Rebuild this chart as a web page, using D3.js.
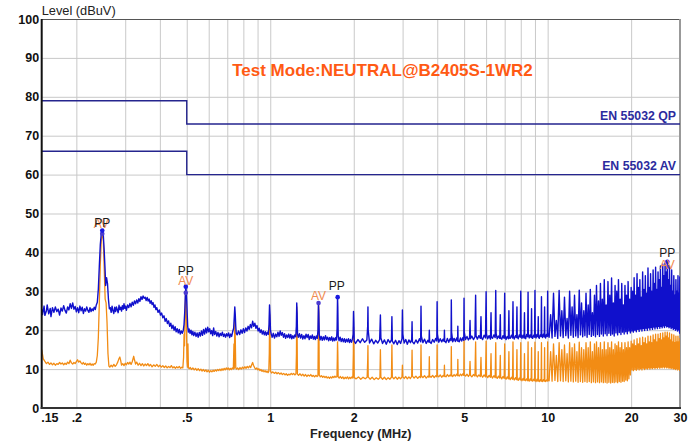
<!DOCTYPE html>
<html><head><meta charset="utf-8">
<script src="https://cdn.jsdelivr.net/npm/d3@7"></script>
<style>html,body{margin:0;padding:0;background:#fff;} svg{display:block;}</style>
</head><body><svg id="chart" width="699" height="448"></svg>
<script>
// ---------- data ----------
const yTicks = [0,10,20,30,40,50,60,70,80,90,100];
const xTickValues = [0.15,0.2,0.5,1,2,5,10,20,30];
const xTickLabels = [".15",".2",".5","1","2","5","10","20","30"];
const xGridValues = [0.2,0.3,0.4,0.5,0.6,0.7,0.8,0.9,1,2,3,4,5,6,7,8,9,10,20];
const yGridValues = [10,20,30,40,50,60,70,80,90];

const qpLimit = [[0.15,79],[0.5,79],[0.5,73],[30,73]];
const avLimit = [[0.15,66],[0.5,66],[0.5,60],[30,60]];
const limitNames = ["EN 55032 QP","EN 55032 AV"];

const peakTrace = [
[0.150,25.5],[0.151,24.0],[0.153,26.2],[0.154,23.8],[0.156,25.0],[0.157,26.5],[0.159,24.2],[0.161,25.6],[0.162,23.5],[0.164,25.8],[0.166,24.6],[0.168,26.0],[0.170,24.8],[0.172,25.4],[0.174,23.9],[0.176,25.7],[0.178,24.9],[0.180,26.3],[0.182,25.1],[0.184,24.4],[0.186,26.0],[0.188,25.2],[0.190,26.8],[0.192,25.6],[0.194,27.0],[0.196,25.4],[0.198,26.1],[0.200,24.7],[0.202,25.8],[0.204,24.5],[0.206,26.2],[0.208,25.0],[0.210,25.9],[0.212,24.3],[0.214,25.5],[0.216,24.9],[0.218,26.0],[0.220,25.1],[0.222,24.6],[0.224,25.8],[0.226,24.8],[0.228,25.5],[0.230,25.0],[0.232,25.9],[0.234,25.3],[0.236,26.5],
[0.238,27.2],[0.240,30.5],[0.242,36.5],[0.244,42.0],[0.246,45.0],[0.248,45.6],[0.250,44.8],[0.252,40.5],[0.254,35.0],[0.255,31.5],[0.257,33.5],[0.259,32.0],[0.261,28.0],[0.263,25.5],
[0.265,25.8],[0.267,24.6],[0.269,26.2],[0.271,25.0],[0.273,24.3],[0.275,25.9],[0.277,24.8],[0.279,26.0],[0.281,25.2],[0.283,24.5],[0.285,26.4],[0.287,25.3],[0.289,25.9],[0.291,24.9],[0.293,26.3],[0.295,25.4],[0.297,26.8],[0.299,25.6],[0.301,26.2],[0.303,25.1],[0.306,26.5],[0.309,25.8],[0.312,26.9],[0.315,26.0],[0.318,27.2],[0.321,26.4],[0.324,27.5],[0.327,26.8],[0.330,27.8],
[0.333,27.0],[0.336,28.1],[0.339,27.4],[0.342,28.6],[0.345,27.9],[0.348,28.8],[0.351,28.2],[0.354,28.5],[0.357,27.6],[0.360,28.4],[0.363,27.5],[0.366,28.0],[0.369,26.9],[0.372,27.6],[0.375,26.6],[0.378,27.1],[0.381,25.9],[0.384,26.5],[0.387,25.3],[0.390,25.8],[0.394,24.6],[0.398,25.2],[0.402,23.9],[0.406,24.4],[0.410,23.2],[0.414,23.7],[0.418,22.3],[0.422,23.0],[0.426,21.7],[0.430,22.4],[0.434,21.0],[0.438,21.8],[0.442,20.4],[0.446,21.3],[0.450,20.0],[0.454,20.9],[0.458,19.6],[0.462,20.4],[0.466,19.3],[0.470,20.2],[0.474,19.0],[0.478,19.8],[0.482,19.2],[0.486,20.0],[0.489,21.5],[0.492,25.0],[0.494,28.5],[0.496,31.2],[0.498,30.0],[0.500,27.5],[0.502,24.0],[0.504,21.0],[0.507,19.5],[0.510,20.3],
[0.514,19.2],[0.518,20.0],[0.522,18.8],[0.526,19.7],[0.530,18.6],[0.535,19.5],[0.540,18.4],[0.545,19.3],[0.550,18.2],[0.555,19.4],[0.560,18.5],[0.565,19.8],[0.570,18.7],[0.575,20.2],[0.580,19.0],[0.585,20.5],[0.590,19.3],[0.595,20.8],[0.600,19.6],[0.605,20.4],[0.610,19.1],[0.615,19.9],[0.620,18.6],[0.625,20.6],[0.630,18.9],[0.636,19.7],[0.642,18.5],[0.648,19.4],[0.654,18.3],[0.660,19.2],[0.666,18.6],[0.672,19.5],[0.678,18.4],[0.684,19.0],[0.690,18.2],[0.696,19.1],[0.702,18.5],[0.708,19.3],[0.714,18.1],[0.720,19.0],[0.726,18.4],[0.732,19.6],[0.738,20.5],[0.742,23.5],[0.745,26.0],[0.748,24.0],[0.751,21.0],[0.754,19.2],
[0.760,18.8],[0.768,19.8],[0.776,18.9],[0.784,20.1],[0.792,19.2],[0.800,20.4],[0.808,19.4],[0.816,20.6],[0.824,19.8],[0.832,21.0],[0.840,20.2],[0.848,21.5],[0.856,20.6],[0.864,22.3],[0.872,21.0],[0.880,21.8],[0.888,20.5],[0.896,21.2],[0.904,19.8],[0.912,20.5],[0.920,19.4],[0.928,20.1],[0.936,19.0],[0.944,19.8],[0.952,18.8],[0.960,19.6],[0.968,18.7],[0.976,19.5],[0.984,18.9],[0.990,21.5],[0.994,26.5],[0.998,24.0],[1.002,20.0],[1.008,19.0],
[1.016,18.2],[1.026,19.2],[1.036,18.0],[1.046,19.0],[1.056,18.3],[1.066,19.5],[1.076,18.4],[1.086,19.8],[1.096,18.7],[1.106,19.4],[1.116,18.2],[1.126,19.1],[1.136,17.9],[1.146,18.8],[1.156,18.1],[1.166,19.0],[1.176,18.0],[1.186,18.9],[1.196,17.8],[1.206,18.6],[1.216,17.9],[1.226,18.8],[1.236,18.3],[1.242,21.0],[1.246,27.0],[1.250,24.5],[1.254,19.0],[1.262,18.2],[1.274,19.1],[1.286,18.0],[1.298,18.9],[1.310,17.7],[1.322,18.6],[1.334,17.8],[1.346,19.0],[1.358,18.1],[1.370,18.9],[1.382,17.6],[1.394,18.5],[1.406,17.9],[1.418,18.8],[1.430,17.7],[1.442,18.4],[1.454,17.6],[1.466,18.5],[1.478,17.9],[1.486,20.0],[1.492,27.0],[1.496,25.0],[1.502,19.0],[1.512,17.5],[1.526,18.4],[1.540,17.4],[1.554,18.3],[1.568,17.5],[1.582,18.6],[1.596,17.6],[1.610,18.2],[1.624,17.3],[1.638,18.1],[1.652,17.4],[1.666,18.3],[1.680,17.2],[1.694,18.0],[1.708,17.3],[1.722,18.1],[1.734,17.5],[1.742,20.5],[1.748,28.5],[1.752,26.0],[1.758,18.5],[1.770,17.3],[1.786,18.2],[1.802,17.1],[1.818,17.9],[1.834,17.0],[1.850,17.8],[1.866,16.9],[1.882,17.7],[1.898,17.0],[1.914,17.8],[1.930,16.8],[1.946,17.6],[1.962,16.9],[1.978,17.7],[1.990,19.0],[1.996,24.8],[2.002,22.0],[2.008,17.2],
[2.03,16.6],[2.07,17.6],[2.11,16.8],[2.15,17.8],[2.19,16.9],[2.23,17.5],[2.245,21.0],[2.25,26.0],[2.255,20.0],[2.28,16.7],[2.32,17.7],[2.36,16.5],[2.40,17.4],[2.44,16.7],[2.48,17.6],[2.495,23.9],[2.505,18.0],[2.54,16.6],[2.58,17.5],[2.62,16.4],[2.66,17.6],[2.70,16.8],[2.735,17.5],[2.745,23.5],[2.755,17.2],[2.79,16.5],[2.83,17.4],[2.87,16.3],[2.91,17.3],[2.95,16.6],[2.985,17.8],[2.995,25.2],[3.005,19.0],[3.04,16.7],[3.08,17.6],[3.12,16.4],[3.16,17.5],[3.20,16.8],[3.235,17.6],[3.245,22.2],[3.255,17.0],[3.30,16.5],[3.35,17.5],[3.40,16.7],[3.45,17.8],[3.485,17.0],[3.495,26.2],[3.505,18.5],[3.55,16.8],[3.60,17.7],[3.65,16.6],[3.70,17.4],[3.735,16.9],[3.745,20.0],[3.755,17.1],[3.80,16.6],[3.85,17.6],[3.90,16.9],[3.95,17.9],[3.985,17.2],[3.995,27.3],[4.005,19.0],[4.05,16.9],[4.10,17.8],[4.15,17.0],[4.20,17.7],[4.235,17.1],[4.245,20.0],[4.255,17.2],[4.30,16.8],[4.35,17.9],[4.40,16.9],[4.45,17.8],[4.485,17.3],[4.495,27.8],[4.505,19.5],[4.55,17.0],[4.60,17.9],[4.65,17.1],[4.70,18.0],[4.735,17.2],[4.745,21.0],[4.755,17.3],[4.80,17.0],[4.85,18.0],[4.90,17.2],[4.95,18.1],[4.985,17.4],[4.995,28.2],[5.005,19.5],
[5.06,17.6],[5.12,18.4],[5.18,17.5],[5.23,18.0],[5.25,22.5],[5.27,17.8],[5.33,18.5],[5.40,17.6],[5.47,18.3],[5.5,29.0],[5.52,18.6],[5.58,17.7],[5.65,18.6],[5.72,17.9],[5.75,23.5],[5.77,18.1],[5.83,17.6],[5.90,18.7],[5.97,18.0],[6.0,29.9],[6.02,19.0],[6.08,17.8],[6.15,18.6],[6.22,17.7],[6.25,24.5],[6.27,18.2],[6.33,17.9],[6.40,18.8],[6.47,18.1],[6.5,30.2],[6.52,19.2],[6.58,17.8],[6.65,18.5],[6.72,17.9],[6.75,24.0],[6.77,18.0],[6.83,17.7],[6.90,18.6],[6.97,17.9],[7.0,29.5],[7.02,18.8],[7.08,17.6],[7.15,18.4],[7.22,17.8],[7.25,25.0],[7.27,18.1],[7.33,17.9],[7.40,18.7],[7.47,18.0],[7.5,27.3],[7.52,18.5],[7.58,17.7],[7.65,18.6],[7.72,18.1],[7.75,26.0],[7.77,18.3],[7.83,17.8],[7.90,18.8],[7.97,18.2],[8.0,30.0],[8.02,19.0],[8.08,17.9],[8.15,18.7],[8.22,18.0],[8.25,24.5],[8.27,18.2],[8.33,17.8],[8.40,18.9],[8.47,18.3],[8.5,29.8],[8.52,19.1],[8.58,18.0],[8.65,18.8],[8.72,18.1],[8.75,25.5],[8.77,18.4],[8.83,17.9],[8.90,18.7],[8.97,18.2],[9.0,30.2],[9.02,19.0],[9.08,18.0],[9.15,18.9],[9.22,18.3],[9.25,23.5],[9.27,18.2],[9.33,17.9],[9.40,18.8],[9.47,18.4],[9.5,28.6],[9.52,18.9],[9.58,18.1],[9.65,19.0],[9.72,18.3],[9.75,26.0],[9.77,18.5],[9.83,18.0],[9.90,18.9],[9.97,18.4],[10.0,30.0],[10.02,19.2],
[10.125,18.2],[10.25,24.0],[10.375,18.0],[10.5,29.5],[10.625,18.4],[10.75,22.5],[10.875,17.9],[11.0,30.2],[11.125,18.5],[11.25,25.0],[11.375,18.1],[11.5,28.5],[11.625,18.6],[11.75,23.0],[11.875,18.0],[12.0,30.0],[12.125,18.7],[12.25,26.0],[12.375,18.2],[12.5,29.0],[12.625,18.5],[12.75,24.0],[12.875,18.1],[13.0,30.3],[13.125,18.8],[13.25,27.0],[13.375,18.3],[13.5,25.0],[13.625,18.6],[13.75,29.5],[13.875,18.2],[14.0,26.5],[14.125,18.9],[14.25,30.5],[14.375,18.4],[14.5,24.5],[14.625,18.7],[14.75,29.0],[14.875,18.3],[15.0,31.5],[15.125,18.9],[15.25,27.5],[15.375,18.4],[15.5,32.0],[15.625,19.0],[15.75,28.0],[15.875,18.5],[16.0,33.0],[16.125,19.1],[16.25,26.5],[16.375,18.6],[16.5,32.5],[16.625,19.2],[16.75,29.0],[16.875,18.7],[17.0,33.4],[17.125,19.0],[17.25,27.0],[17.375,18.5],[17.5,31.5],[17.625,19.3],[17.75,30.0],[17.875,18.8],[18.0,33.0],[18.125,19.4],[18.25,28.0],[18.375,18.9],[18.5,32.0],[18.625,19.5],[18.75,26.5],[18.875,19.0],[19.0,31.5],[19.125,19.6],[19.25,29.0],[19.375,19.1],[19.5,32.5],[19.625,19.8],[19.75,28.0],[19.875,19.3],[20.0,31.0],
[20.125,19.8],[20.25,30.0],[20.375,19.5],[20.5,33.5],[20.625,20.0],[20.75,29.0],[20.875,19.6],[21.0,34.5],[21.125,20.2],[21.25,31.0],[21.375,19.7],[21.5,33.0],[21.625,20.3],[21.75,28.5],[21.875,19.8],[22.0,35.0],[22.125,20.4],[22.25,30.5],[22.375,19.9],[22.5,34.0],[22.625,20.5],[22.75,29.5],[22.875,20.0],[23.0,36.0],[23.125,20.6],[23.25,31.0],[23.375,20.1],[23.5,34.5],[23.625,20.7],[23.75,30.0],[23.875,20.2],[24.0,35.5],[24.125,20.8],[24.25,32.0],[24.375,20.3],[24.5,36.2],[24.625,20.9],[24.75,30.5],[24.875,20.4],[25.0,35.0],[25.125,21.0],[25.25,33.0],[25.375,20.5],[25.5,36.5],[25.625,21.0],[25.75,31.0],[25.875,20.6],[26.0,37.0],[26.125,21.1],[26.25,34.0],[26.375,20.7],[26.5,37.2],[26.625,21.2],[26.75,35.0],[26.875,20.8],[27.0,37.6],[27.125,21.0],[27.25,33.0],[27.375,20.6],[27.5,36.5],[27.625,20.9],[27.75,31.5],[27.875,20.4],[28.0,35.5],[28.125,20.7],[28.25,30.0],[28.375,20.2],[28.5,34.0],[28.625,20.5],[28.75,29.0],[28.875,20.0],[29.0,33.0],[29.125,20.3],[29.25,30.0],[29.375,19.8],[29.5,34.0],[29.625,20.1],[29.75,29.5],[29.875,19.5],[29.95,33.7],[30.0,19.0]
];

const avgTrace = [
[0.150,15.0],[0.151,13.8],[0.152,12.6],[0.154,12.0],[0.156,11.4],[0.158,11.8],[0.160,11.2],[0.162,11.6],[0.164,11.1],[0.166,11.5],[0.168,11.0],[0.170,11.4],[0.172,11.2],[0.174,11.7],[0.176,11.3],[0.178,11.6],[0.180,11.1],[0.182,11.5],[0.184,11.2],[0.186,11.8],[0.188,11.4],[0.190,12.3],[0.192,11.6],[0.194,11.3],[0.196,11.7],[0.198,11.4],[0.200,11.9],[0.202,12.4],[0.204,11.8],[0.206,12.1],[0.208,11.6],[0.210,11.3],[0.212,11.7],[0.214,11.2],[0.216,11.5],[0.218,11.0],[0.220,11.4],[0.222,11.1],[0.224,11.5],[0.226,11.0],[0.228,11.3],[0.230,11.0],[0.232,11.4],[0.234,11.3],[0.236,11.8],[0.238,13.5],[0.240,18.0],[0.242,27.0],[0.244,37.0],[0.246,43.0],[0.248,44.8],[0.250,43.5],[0.252,36.0],[0.254,28.0],[0.256,27.0],[0.258,22.0],[0.260,14.0],[0.262,10.8],[0.264,10.5],
[0.267,11.0],[0.270,10.6],[0.273,11.2],[0.276,10.7],[0.279,11.1],[0.282,11.8],[0.285,12.7],[0.287,13.1],[0.289,12.2],[0.291,11.0],[0.294,11.4],[0.297,10.9],[0.300,11.5],[0.303,11.1],[0.306,11.7],[0.309,11.3],[0.312,11.8],[0.315,11.2],[0.318,11.9],[0.320,12.6],[0.322,13.3],[0.324,12.4],[0.327,11.3],[0.330,11.8],[0.334,11.0],[0.338,11.5],[0.342,10.9],[0.346,11.4],[0.350,10.8],[0.354,11.3],[0.358,10.9],[0.362,11.4],[0.366,10.8],[0.370,11.2],[0.375,10.6],[0.380,11.1],[0.385,10.7],[0.390,11.2],[0.395,10.6],[0.400,11.0],[0.405,10.5],[0.410,10.9],[0.415,10.4],[0.420,10.8],[0.425,10.3],[0.430,10.7],[0.435,10.4],[0.440,10.9],[0.445,10.3],[0.450,10.6],[0.455,10.2],[0.460,10.6],[0.465,10.3],[0.470,10.7],[0.475,10.2],[0.480,10.5],[0.484,10.3],[0.487,13.0],[0.489,19.0],[0.491,16.0],[0.493,24.0],[0.495,29.5],[0.497,28.0],[0.499,20.0],[0.501,12.0],[0.503,10.5],[0.505,16.5],[0.507,10.4],[0.510,10.1],
[0.515,10.4],[0.520,9.9],[0.526,10.3],[0.532,9.8],[0.538,10.2],[0.544,9.7],[0.550,10.1],[0.556,9.6],[0.562,10.0],[0.568,9.5],[0.574,9.9],[0.580,9.4],[0.586,9.8],[0.592,9.3],[0.598,9.7],[0.604,9.2],[0.610,9.6],[0.616,9.3],[0.622,9.7],[0.628,9.4],[0.634,9.8],[0.640,9.5],[0.646,9.9],[0.652,9.6],[0.658,10.0],[0.664,9.6],[0.670,10.1],[0.676,9.7],[0.682,10.2],[0.688,9.8],[0.694,10.3],[0.700,9.9],[0.706,10.3],[0.712,9.8],[0.718,10.2],[0.724,9.9],[0.730,10.3],[0.736,10.0],[0.740,16.5],[0.742,10.2],[0.745,22.5],[0.748,18.0],[0.751,10.3],[0.756,10.0],
[0.762,10.3],[0.770,9.9],[0.778,10.4],[0.786,10.0],[0.794,10.5],[0.802,10.1],[0.810,10.6],[0.818,10.2],[0.826,10.7],[0.834,10.3],[0.842,10.8],[0.850,10.4],[0.858,11.2],[0.864,11.7],[0.870,11.0],[0.878,10.4],[0.886,10.0],[0.894,10.3],[0.902,9.8],[0.910,10.1],[0.918,9.6],[0.926,9.9],[0.934,9.4],[0.942,9.7],[0.950,9.3],[0.958,9.6],[0.966,9.2],[0.974,9.5],[0.982,9.1],[0.988,9.4],[0.992,14.0],[0.995,24.0],[0.998,20.0],[1.002,9.5],[1.010,9.0],
[1.022,9.3],[1.034,8.9],[1.046,9.2],[1.058,8.8],[1.070,9.1],[1.082,8.7],[1.094,9.0],[1.106,8.6],[1.118,8.9],[1.130,8.5],[1.142,8.8],[1.154,8.4],[1.166,8.7],[1.178,8.5],[1.190,8.9],[1.202,8.6],[1.214,8.9],[1.226,8.5],[1.238,8.8],[1.243,14.0],[1.246,26.0],[1.249,22.0],[1.253,8.7],[1.265,8.4],[1.280,8.8],[1.295,8.3],[1.310,8.7],[1.325,8.2],[1.340,8.6],[1.355,8.1],[1.370,8.5],[1.385,8.2],[1.400,8.6],[1.415,8.1],[1.430,8.4],[1.445,8.0],[1.460,8.4],[1.475,8.1],[1.486,8.3],[1.490,18.0],[1.493,26.8],[1.497,24.0],[1.502,8.5],[1.515,8.0],[1.530,8.3],[1.545,7.9],[1.560,8.2],[1.575,7.8],[1.590,8.1],[1.605,7.7],[1.620,8.0],[1.635,7.6],[1.650,8.0],[1.665,7.7],[1.680,8.1],[1.695,7.8],[1.710,8.2],[1.725,7.9],[1.740,8.1],[1.745,13.0],[1.748,17.0],[1.752,14.5],[1.757,8.0],[1.772,7.7],[1.790,8.1],[1.808,7.6],[1.826,8.0],[1.844,7.5],[1.862,7.9],[1.880,7.6],[1.898,8.0],[1.916,7.5],[1.934,7.9],[1.952,7.6],[1.970,8.0],[1.985,7.7],[1.993,14.0],[1.997,20.8],[2.002,17.0],[2.008,7.8],
[2.04,7.5],[2.08,8.0],[2.12,7.4],[2.16,7.9],[2.20,7.5],[2.235,7.9],[2.245,12.0],[2.25,16.0],[2.255,8.0],[2.29,7.4],[2.33,7.9],[2.37,7.3],[2.41,7.8],[2.45,7.4],[2.485,7.8],[2.495,15.0],[2.505,7.9],[2.54,7.4],[2.58,7.9],[2.62,7.3],[2.66,7.8],[2.70,7.4],[2.735,7.9],[2.745,16.2],[2.755,8.0],[2.79,7.5],[2.83,8.0],[2.87,7.4],[2.91,7.9],[2.95,7.5],[2.985,8.0],[2.995,11.0],[3.005,8.0],[3.04,7.6],[3.08,8.1],[3.12,7.5],[3.16,8.0],[3.20,7.6],[3.235,8.1],[3.245,14.9],[3.255,8.2],[3.30,7.7],[3.35,8.2],[3.40,7.6],[3.45,8.1],[3.485,7.8],[3.495,16.2],[3.505,8.3],[3.55,7.8],[3.60,8.3],[3.65,7.7],[3.70,8.2],[3.735,7.9],[3.745,13.2],[3.755,8.2],[3.80,7.9],[3.85,8.4],[3.90,7.8],[3.95,8.3],[3.985,8.0],[3.995,16.2],[4.005,8.4],[4.05,8.0],[4.10,8.5],[4.15,7.9],[4.20,8.4],[4.235,8.1],[4.245,11.0],[4.255,8.3],[4.30,8.0],[4.35,8.6],[4.40,8.1],[4.45,8.5],[4.485,8.2],[4.495,15.8],[4.505,8.5],[4.55,8.1],[4.60,8.6],[4.65,8.2],[4.70,8.7],[4.735,8.3],[4.745,12.5],[4.755,8.5],[4.80,8.2],[4.85,8.7],[4.90,8.3],[4.95,8.8],[4.985,8.4],[4.995,17.5],[5.005,8.6],
[5.06,8.2],[5.12,8.7],[5.18,8.1],[5.23,8.6],[5.25,12.0],[5.27,8.4],[5.33,8.0],[5.40,8.6],[5.47,8.2],[5.5,17.0],[5.52,8.5],[5.58,8.0],[5.65,8.5],[5.72,8.1],[5.75,13.0],[5.77,8.4],[5.83,7.9],[5.90,8.5],[5.97,8.0],[6.0,17.2],[6.02,8.3],[6.08,7.8],[6.15,8.4],[6.22,7.9],[6.25,14.0],[6.27,8.2],[6.33,7.7],[6.40,8.3],[6.47,7.8],[6.5,16.8],[6.52,8.1],[6.58,7.6],[6.65,8.2],[6.72,7.7],[6.75,13.5],[6.77,8.0],[6.83,7.5],[6.90,8.1],[6.97,7.6],[7.0,16.5],[7.02,7.9],[7.08,7.4],[7.15,8.0],[7.22,7.5],[7.25,14.5],[7.27,7.8],[7.33,7.3],[7.40,7.9],[7.47,7.4],[7.5,17.0],[7.52,7.7],[7.58,7.2],[7.65,7.8],[7.72,7.3],[7.75,15.0],[7.77,7.6],[7.83,7.1],[7.90,7.7],[7.97,7.2],[8.0,16.8],[8.02,7.5],[8.08,7.0],[8.15,7.6],[8.22,7.1],[8.25,14.0],[8.27,7.4],[8.33,7.0],[8.40,7.5],[8.47,7.0],[8.5,17.0],[8.52,7.3],[8.58,6.9],[8.65,7.5],[8.72,7.0],[8.75,15.5],[8.77,7.3],[8.83,6.9],[8.90,7.4],[8.97,7.0],[9.0,16.9],[9.02,7.2],[9.08,6.8],[9.15,7.4],[9.22,6.9],[9.25,14.5],[9.27,7.2],[9.33,6.8],[9.40,7.3],[9.47,6.9],[9.5,16.8],[9.52,7.1],[9.58,6.8],[9.65,7.3],[9.72,6.9],[9.75,15.5],[9.77,7.1],[9.83,6.8],[9.90,7.2],[9.97,6.9],[10.0,17.0],[10.02,7.1],
[10.125,7.0],[10.25,14.5],[10.375,6.9],[10.5,16.5],[10.625,7.1],[10.75,13.5],[10.875,6.8],[11.0,16.8],[11.125,7.0],[11.25,15.0],[11.375,6.8],[11.5,16.2],[11.625,7.0],[11.75,14.0],[11.875,6.7],[12.0,16.8],[12.125,6.9],[12.25,15.5],[12.375,6.7],[12.5,16.5],[12.625,6.9],[12.75,14.5],[12.875,6.6],[13.0,16.9],[13.125,6.8],[13.25,15.5],[13.375,6.6],[13.5,15.0],[13.625,6.8],[13.75,16.8],[13.875,6.6],[14.0,15.5],[14.125,6.8],[14.25,17.0],[14.375,6.5],[14.5,14.5],[14.625,6.7],[14.75,16.5],[14.875,6.5],[15.0,17.0],[15.125,6.7],[15.25,15.5],[15.375,6.5],[15.5,16.8],[15.625,6.7],[15.75,15.0],[15.875,6.5],[16.0,17.0],[16.125,6.6],[16.25,15.0],[16.375,6.4],[16.5,16.8],[16.625,6.6],[16.75,15.5],[16.875,6.4],[17.0,17.0],[17.125,6.6],[17.25,15.0],[17.375,6.5],[17.5,16.5],[17.625,6.7],[17.75,16.0],[17.875,6.5],[18.0,17.0],[18.125,6.8],[18.25,15.5],[18.375,6.6],[18.5,16.8],[18.625,6.9],[18.75,15.0],[18.875,6.8],[19.0,16.8],[19.125,7.2],[19.25,15.5],[19.375,7.0],[19.5,17.0],[19.625,7.5],[19.75,15.5],[19.875,8.5],[20.0,17.2],
[20.125,9.8],[20.25,16.5],[20.375,9.6],[20.5,17.5],[20.625,9.9],[20.75,16.0],[20.875,9.7],[21.0,17.8],[21.125,10.0],[21.25,16.5],[21.375,9.8],[21.5,18.0],[21.625,10.1],[21.75,16.0],[21.875,9.8],[22.0,18.2],[22.125,10.2],[22.25,16.8],[22.375,9.9],[22.5,18.0],[22.625,10.2],[22.75,16.5],[22.875,10.0],[23.0,18.5],[23.125,10.3],[23.25,17.0],[23.375,10.0],[23.5,18.5],[23.625,10.3],[23.75,16.8],[23.875,10.1],[24.0,18.8],[24.125,10.4],[24.25,17.5],[24.375,10.1],[24.5,19.0],[24.625,10.4],[24.75,17.0],[24.875,10.2],[25.0,19.0],[25.125,10.5],[25.25,17.8],[25.375,10.2],[25.5,19.2],[25.625,10.5],[25.75,17.5],[25.875,10.3],[26.0,19.3],[26.125,10.6],[26.25,18.0],[26.375,10.3],[26.5,19.5],[26.625,10.6],[26.75,18.5],[26.875,10.3],[27.0,19.5],[27.125,10.5],[27.25,18.0],[27.375,10.2],[27.5,19.3],[27.625,10.4],[27.75,17.5],[27.875,10.1],[28.0,19.0],[28.125,10.3],[28.25,17.0],[28.375,10.0],[28.5,18.8],[28.625,10.2],[28.75,16.8],[28.875,9.9],[29.0,18.5],[29.125,10.1],[29.25,17.0],[29.375,9.8],[29.5,18.5],[29.625,10.0],[29.75,17.0],[29.875,9.7],[30.0,18.0]
];

const markerFreq  = [0.248, 0.248, 0.496, 0.496, 1.493, 1.75, 27.0, 27.0];
const markerLevel = [44.8, 45.6, 29.6, 31.2, 27.0, 28.5, 36.3, 37.6];
const markerKind  = ["AV","PP","AV","PP","AV","PP","AV","PP"];

// ---------- styles (label offsets in px, relative to the marker) ----------
const labelDy = [-5.4, -4, -8.3, -12.1, -2.7, -6.8, 2.2, -4.5];
const labelDx = [-1, 0, 0, 0, 0, -1, 0, 0];

const W = 699, H = 448;
const pLeft = 41.7, pRight = 680, pTop = 19, pBottom = 408;
const FONT = "'Liberation Sans', Arial, Helvetica, sans-serif";

const svg = d3.select("#chart");
svg.append("rect").attr("width",W).attr("height",H).attr("fill","#fff");

const x = d3.scaleLog().domain([0.15,30]).range([pLeft,pRight]);
const y = d3.scaleLinear().domain([0,100]).range([pBottom,pTop]);

// grid
const gx = svg.append("g").attr("transform",`translate(0,${pBottom})`)
  .call(d3.axisBottom(x).tickValues(xGridValues).tickSize(-(pBottom-pTop)).tickFormat(""));
gx.select(".domain").remove();
gx.selectAll("line").attr("stroke","#c9c9c9").attr("stroke-width",1);
const gy = svg.append("g").attr("transform",`translate(${pLeft},0)`)
  .call(d3.axisLeft(y).tickValues(yGridValues).tickSize(-(pRight-pLeft)).tickFormat(""));
gy.select(".domain").remove();
gy.selectAll("line").attr("stroke","#c9c9c9").attr("stroke-width",1);

// frame top / right
svg.append("line").attr("x1",pLeft).attr("x2",pRight).attr("y1",pTop+0.5).attr("y2",pTop+0.5).attr("stroke","#555").attr("stroke-width",1);
svg.append("line").attr("x1",pRight).attr("x2",pRight).attr("y1",pTop).attr("y2",pBottom).attr("stroke","#999").attr("stroke-width",2);

// limit lines
const line = d3.line().x(d=>x(d[0])).y(d=>y(d[1]));
[qpLimit, avLimit].forEach((lim,i)=>{
  svg.append("path").attr("d",line(lim)).attr("fill","none").attr("stroke","#25258e").attr("stroke-width",1.4);
  const last = lim[lim.length-1];
  svg.append("text").attr("x",x(last[0])-4).attr("y",y(last[1])-4.5)
    .attr("text-anchor","end").attr("font-family",FONT).attr("font-weight","bold")
    .attr("font-size","12.3px").attr("fill","#2b2b9e").text(limitNames[i]);
});

// traces
const clipId = "plotclip";
svg.append("clipPath").attr("id",clipId).append("rect").attr("x",pLeft).attr("y",pTop).attr("width",pRight-pLeft).attr("height",pBottom-pTop);
const traces = svg.append("g").attr("clip-path",`url(#${clipId})`);
traces.append("path").attr("d",line(avgTrace)).attr("fill","none").attr("stroke","#f28c14").attr("stroke-width",1.3).attr("stroke-linejoin","round");
traces.append("path").attr("d",line(peakTrace)).attr("fill","none").attr("stroke","#1010cc").attr("stroke-width",1.4).attr("stroke-linejoin","round");

// markers
markerFreq.forEach((f,i)=>{
  svg.append("circle").attr("cx",x(f)).attr("cy",y(markerLevel[i])).attr("r",2.3)
    .attr("fill", markerKind[i]==="PP" ? "#1a1ae0" : "#4a3ad0");
});
markerFreq.forEach((f,i)=>{
  svg.append("text").attr("x",x(f)+labelDx[i]).attr("y",y(markerLevel[i])+labelDy[i])
    .attr("text-anchor","middle").attr("font-family",FONT).attr("font-size","12px")
    .attr("fill", markerKind[i]==="PP" ? "#1c1c1c" : "#f08a50").text(markerKind[i]);
});

// axes
const ax = svg.append("g").attr("transform",`translate(0,${pBottom})`)
  .call(d3.axisBottom(x).tickValues(xTickValues).tickSize(0).tickPadding(5.5).tickFormat((d,i)=>xTickLabels[i]));
ax.select(".domain").remove();
ax.selectAll("text").attr("font-family",FONT).attr("font-weight","bold").attr("font-size","12.5px").attr("fill","#111");
ax.selectAll("text").filter((d,i)=>i===0).attr("text-anchor","start").attr("dx","-1");
const ay = svg.append("g").attr("transform",`translate(${pLeft},0)`)
  .call(d3.axisLeft(y).tickValues(yTicks).tickSize(0).tickPadding(2.5));
ay.select(".domain").remove();
ay.selectAll("text").attr("font-family",FONT).attr("font-weight","bold").attr("font-size","12.5px").attr("fill","#111");

svg.append("line").attr("x1",pLeft).attr("x2",pLeft).attr("y1",pTop).attr("y2",pBottom+1).attr("stroke","#111").attr("stroke-width",2);
svg.append("line").attr("x1",pLeft-1).attr("x2",pRight+1).attr("y1",pBottom).attr("y2",pBottom).attr("stroke","#333").attr("stroke-width",2);

// titles
svg.append("text").attr("x",pLeft).attr("y",15).attr("font-family",FONT).attr("font-size","12.8px").attr("fill","#222").text("Level (dBuV)");
svg.append("text").attr("x",(pLeft+pRight)/2).attr("y",438).attr("text-anchor","middle").attr("font-family",FONT).attr("font-weight","bold").attr("font-size","12.6px").attr("fill","#222").text("Frequency (MHz)");
svg.append("text").attr("x",382.5).attr("y",76).attr("text-anchor","middle").attr("font-family",FONT).attr("font-weight","bold").attr("font-size","17px").attr("fill","#ff5a14").text("Test Mode:NEUTRAL@B2405S-1WR2");
</script>
</body></html>
